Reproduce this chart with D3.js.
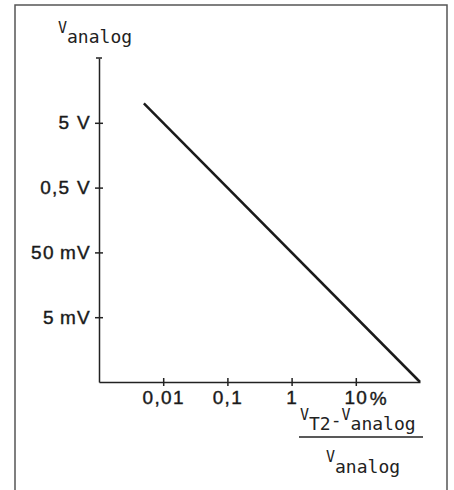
<!DOCTYPE html>
<html>
<head>
<meta charset="utf-8">
<script src="https://cdn.jsdelivr.net/npm/d3@7"></script>
<style>
  body { margin: 0; background: #fff; }
  .mono { font-family: "DejaVu Sans Mono", monospace; fill: #222; }
</style>
</head>
<body>
<div id="chart"></div>
<script>
// valeurs
const xTickValues = [0.01, 0.1, 1, 10];
const xTickLabels = ["0,01", "0,1", "1", "10"];
const yTickValues = [5, 0.5, 0.05, 0.005];
const yTickLabels = ["5 V", "0,5 V", "50\u2009mV", "5\u2009mV"];
const linePct = [0.005, 100];      // % écart
const lineVolts = [10, 0.0005];    // V analog

const W = 454, H = 490;
const labelFont = "Liberation Sans";

const svg = d3.select("#chart")
    .append("svg")
    .attr("width", W)
    .attr("height", H);

// cadre
svg.append("path")
    .attr("d", "M15,492 V5 H447 V492")
    .attr("fill", "none")
    .attr("stroke", "#555")
    .attr("stroke-width", 1.5);

// échelles log
const x = d3.scaleLog().domain([0.001, 100]).range([99, 420]);
const y = d3.scaleLog().domain([0.0005, 50]).range([382, 58]);

function styleLabels(sel) {
    sel.attr("font-family", labelFont)
        .attr("font-size", 19)
        .attr("letter-spacing", 1.3)
        .attr("fill", "#1a1a1a")
        .attr("stroke", "#1a1a1a")
        .attr("stroke-width", 0.4);
}

// axe Y
const yAxis = svg.append("g")
    .attr("transform", "translate(99,0)")
    .call(d3.axisLeft(y)
        .tickValues(yTickValues)
        .tickFormat((d, i) => yTickLabels[i])
        .tickSizeOuter(0));
yAxis.attr("font-family", null).attr("font-size", null);
yAxis.select(".domain").attr("stroke", "#222").attr("stroke-width", 1.5);
yAxis.selectAll(".tick line").attr("x1", 4).attr("x2", -4).attr("stroke", "#222").attr("stroke-width", 1.5);
yAxis.selectAll(".tick text").attr("x", -8).call(styleLabels);

// petit trait en haut de l'axe Y
svg.append("line")
    .attr("x1", 96).attr("x2", 102)
    .attr("y1", y(50)).attr("y2", y(50))
    .attr("stroke", "#222").attr("stroke-width", 1.5);

// axe X
const xAxis = svg.append("g")
    .attr("transform", "translate(0,382)")
    .call(d3.axisBottom(x)
        .tickValues(xTickValues)
        .tickFormat((d, i) => xTickLabels[i])
        .tickSizeOuter(0));
xAxis.attr("font-family", null).attr("font-size", null);
xAxis.select(".domain").attr("stroke", "#222").attr("stroke-width", 1.5);
xAxis.selectAll(".tick line").attr("y1", -4).attr("y2", 4).attr("stroke", "#222").attr("stroke-width", 1.5);
xAxis.selectAll(".tick text").attr("y", 9).call(styleLabels);

// "%" après 10
svg.append("text")
    .attr("x", x(10) + 23)
    .attr("y", 405)
    .attr("text-anchor", "middle")
    .text("%")
    .call(styleLabels);

// courbe
const line = d3.line()
    .x(d => x(d[0]))
    .y(d => y(d[1]));

svg.append("path")
    .datum(linePct.map((p, i) => [p, lineVolts[i]]))
    .attr("d", line)
    .attr("fill", "none")
    .attr("stroke", "#1a1a1a")
    .attr("stroke-width", 2.5);

// titre axe Y
const yTitle = svg.append("text").attr("class", "mono").attr("x", 58).attr("y", 33);
yTitle.append("tspan").style("font-size", "15px").text("V");
yTitle.append("tspan").style("font-size", "18px").attr("dy", 10).text("analog");

// titre axe X (fraction)
const num = svg.append("text").attr("class", "mono").attr("x", 300).attr("y", 420);
num.append("tspan").style("font-size", "15px").text("V");
num.append("tspan").style("font-size", "18px").attr("dy", 10).text("T2");
num.append("tspan").style("font-size", "18px").attr("dy", -4).text("-");
num.append("tspan").style("font-size", "15px").attr("dy", -6).text("V");
num.append("tspan").style("font-size", "18px").attr("dy", 10).text("analog");

svg.append("line")
    .attr("x1", 299).attr("x2", 423)
    .attr("y1", 437).attr("y2", 437)
    .attr("stroke", "#222").attr("stroke-width", 1.5);

const den = svg.append("text").attr("class", "mono").attr("x", 326).attr("y", 462);
den.append("tspan").style("font-size", "15px").text("V");
den.append("tspan").style("font-size", "18px").attr("dy", 11).text("analog");
</script>
</body>
</html>
